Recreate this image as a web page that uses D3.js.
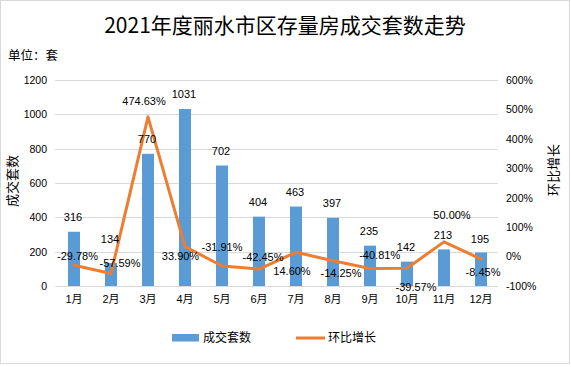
<!DOCTYPE html>
<html><head><meta charset="utf-8">
<script src="https://cdn.jsdelivr.net/npm/d3@7"></script>
<style>body{margin:0;background:#fff}svg{display:block}</style>
</head><body>
<script>
const months = ["1月","2月","3月","4月","5月","6月","7月","8月","9月","10月","11月","12月"];
const deals = [316,134,770,1031,702,404,463,397,235,142,213,195];
const growth = [-29.78,-57.59,474.63,33.90,-31.91,-42.45,14.60,-14.25,-40.81,-39.57,50.00,-8.45];
const leftTicks = [0,200,400,600,800,1000,1200];
const rightTicks = [-100,0,100,200,300,400,500,600];
// label placement (layout, not data)
const barLabelLift = [14.5,24,14.5,14.5,14.5,14,14,14.5,14.5,14,14.5,13.5];
const pctLabelOffset = [[3.5,-8.7],[9,-10],[-4,-16],[-4.5,10],[0,-19],[4,-12],[-4,19],[8,12.5],[9.7,-13.6],[9,18.5],[8,-27],[2,12.6]];

const W=571,H=367;
const svg=d3.select("body").append("svg").attr("width",W).attr("height",H);
const numFont='"Liberation Sans","Noto Sans CJK SC",sans-serif';
const cjkFont='"Noto Sans CJK SC","Liberation Sans",sans-serif';

svg.append("rect").attr("x",0.5).attr("y",0.5).attr("width",569).attr("height",363)
  .attr("fill","#fff").attr("stroke","#d9d9d9");

const x=d3.scaleBand().domain(months).range([55.5,499.5]).paddingInner(0.676).paddingOuter(0.338);
const yL=d3.scaleLinear().domain([0,1200]).range([286,80]);
const yR=d3.scaleLinear().domain([-100,600]).range([286,80]);
const cx=m=>x(m)+x.bandwidth()/2;

// gridlines
svg.append("g").selectAll("line").data(leftTicks).join("line")
  .attr("x1",55).attr("x2",498).attr("y1",d=>Math.round(yL(d))+0.5).attr("y2",d=>Math.round(yL(d))+0.5)
  .attr("stroke","#d9d9d9").attr("stroke-width",1);

// left axis
const gL=svg.append("g").attr("transform","translate(47,0)")
  .call(d3.axisLeft(yL).tickValues(leftTicks).tickSize(0).tickPadding(0).tickFormat(d=>String(d)));
gL.select(".domain").remove();
gL.selectAll("text").attr("font-family",numFont).attr("font-size","10.5px").attr("fill","#000");

// right axis
const gR=svg.append("g").attr("transform","translate(506,0)")
  .call(d3.axisRight(yR).tickValues(rightTicks).tickSize(0).tickPadding(0).tickFormat(d=>d+"%"));
gR.select(".domain").remove();
gR.selectAll("text").attr("font-family",numFont).attr("font-size","10.5px").attr("fill","#000");

// x axis labels
const gX=svg.append("g").attr("transform","translate(0,292)")
  .call(d3.axisBottom(x).tickSize(0).tickPadding(3));
gX.select(".domain").remove();
gX.selectAll("text").attr("font-family",numFont).attr("font-size","11px").attr("fill","#000");

// bars
svg.append("g").selectAll("rect").data(deals).join("rect")
  .attr("x",(d,i)=>x(months[i])).attr("width",x.bandwidth())
  .attr("y",d=>yL(d)).attr("height",d=>yL(0)-yL(d)).attr("fill","#5b9bd5");

// line
const line=d3.line().x((d,i)=>cx(months[i])).y(d=>yR(d));
svg.append("path").datum(growth).attr("d",line).attr("fill","none")
  .attr("stroke","#ed7d31").attr("stroke-width",3).attr("stroke-linejoin","round").attr("stroke-linecap","round");

// bar labels
svg.append("g").selectAll("text").data(deals).join("text")
  .attr("x",(d,i)=>cx(months[i])-1).attr("y",(d,i)=>yL(d)-barLabelLift[i])
  .attr("dy","0.35em").attr("text-anchor","middle")
  .attr("font-family",numFont).attr("font-size","11px").attr("fill","#000").text(d=>d);

// percent labels
svg.append("g").selectAll("text").data(growth).join("text")
  .attr("x",(d,i)=>cx(months[i])+pctLabelOffset[i][0]).attr("y",(d,i)=>yR(d)+pctLabelOffset[i][1])
  .attr("dy","0.35em").attr("text-anchor","middle")
  .attr("font-family",numFont).attr("font-size","11px").attr("fill","#000").text(d=>d.toFixed(2)+"%");

// titles
svg.append("text").attr("x",285).attr("y",26).attr("dy","0.35em").attr("text-anchor","middle")
  .attr("font-family",cjkFont).attr("font-size","21px").attr("fill","#000").text("2021年度丽水市区存量房成交套数走势");
svg.append("text").attr("x",8).attr("y",56).attr("dy","0.35em")
  .attr("font-family",cjkFont).attr("font-size","12.5px").attr("fill","#000").text("单位：套");
svg.append("text").attr("transform","translate(12,181) rotate(-90)").attr("dy","0.35em").attr("text-anchor","middle")
  .attr("font-family",cjkFont).attr("font-size","13px").attr("fill","#000").text("成交套数");
svg.append("text").attr("transform","translate(553,170) rotate(-90)").attr("dy","0.35em").attr("text-anchor","middle")
  .attr("font-family",cjkFont).attr("font-size","13px").attr("fill","#000").text("环比增长");

// legend
const lg=svg.append("g");
lg.append("rect").attr("x",172).attr("y",334).attr("width",27).attr("height",7.5).attr("fill","#5b9bd5");
lg.append("text").attr("x",203).attr("y",338).attr("dy","0.35em").attr("font-family",cjkFont)
  .attr("font-size","12px").attr("fill","#000").text("成交套数");
lg.append("line").attr("x1",296).attr("x2",325).attr("y1",338).attr("y2",338)
  .attr("stroke","#ed7d31").attr("stroke-width",3);
lg.append("text").attr("x",328).attr("y",338).attr("dy","0.35em").attr("font-family",cjkFont)
  .attr("font-size","12px").attr("fill","#000").text("环比增长");
</script>
</body></html>
